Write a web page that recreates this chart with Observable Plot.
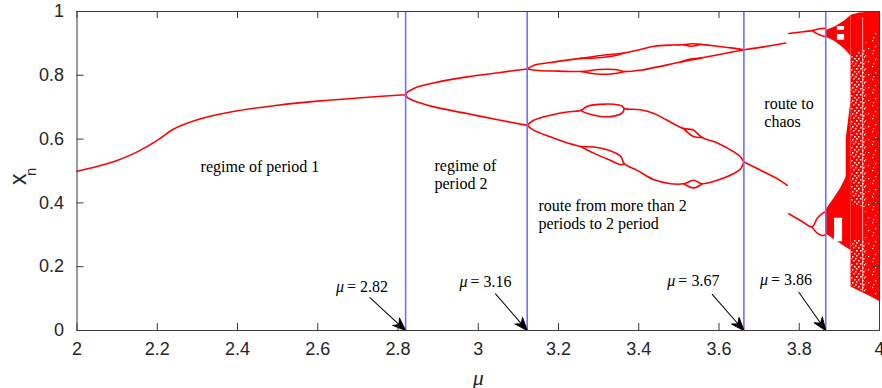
<!DOCTYPE html>
<html><head><meta charset="utf-8">
<script src="https://cdn.jsdelivr.net/npm/d3@7"></script>
<script src="https://cdn.jsdelivr.net/npm/@observablehq/plot@0.6"></script>
<style>body{margin:0;background:#fff;}</style>
</head><body><div id="chart"></div>
<script>
// ---------- axes ----------
const xTicks = [2, 2.2, 2.4, 2.6, 2.8, 3, 3.2, 3.4, 3.6, 3.8, 4];
const xTickLabels = ["2", "2.2", "2.4", "2.6", "2.8", "3", "3.2", "3.4", "3.6", "3.8", "4"];
const yTicks = [0, 0.2, 0.4, 0.6, 0.8, 1];
const yTickLabels = ["0", "0.2", "0.4", "0.6", "0.8", "1"];

// ---------- bifurcation branches [mu, x_n] ----------
const period1 = [[2.000,0.499],[2.050,0.514],[2.100,0.533],[2.150,0.560],[2.200,0.596],[2.240,0.631],[2.300,0.661],[2.400,0.689],[2.500,0.706],[2.600,0.719],[2.700,0.729],[2.819,0.739]];
const period2Up = [[2.819,0.739],[2.823,0.747],[2.831,0.753],[2.848,0.763],[2.889,0.776],[2.972,0.795],[3.055,0.809],[3.122,0.820]];
const period2Low = [[2.819,0.739],[2.823,0.731],[2.831,0.725],[2.848,0.716],[2.889,0.701],[2.972,0.680],[3.055,0.659],[3.122,0.643]];
const upperUpper = [[3.122,0.820],[3.138,0.831],[3.180,0.840],[3.255,0.853],[3.305,0.862],[3.364,0.870],[3.404,0.881],[3.438,0.891],[3.487,0.895],[3.512,0.896],[3.533,0.899],[3.554,0.897],[3.596,0.891],[3.630,0.886],[3.662,0.880]];
const upperUpperLoopA = [[3.255,0.853],[3.300,0.855],[3.340,0.861],[3.364,0.870]];
const upperUpperLoopB = [[3.512,0.896],[3.533,0.891],[3.554,0.897]];
const upperLower = [[3.122,0.820],[3.150,0.815],[3.200,0.813],[3.257,0.812],[3.300,0.818],[3.340,0.818],[3.366,0.812],[3.404,0.816],[3.438,0.824],[3.487,0.837],[3.521,0.846],[3.571,0.858],[3.620,0.870],[3.662,0.880]];
const upperLowerLoopA = [[3.257,0.812],[3.290,0.805],[3.330,0.804],[3.366,0.812]];
const upperLowerLoopB = [[3.505,0.842],[3.530,0.851],[3.555,0.853]];
const lowerUpper = [[3.122,0.643],[3.138,0.659],[3.180,0.675],[3.222,0.685],[3.255,0.690],[3.272,0.703],[3.305,0.709],[3.338,0.709],[3.359,0.703],[3.364,0.696],[3.404,0.692],[3.438,0.680],[3.471,0.659],[3.512,0.633],[3.535,0.629],[3.558,0.605],[3.596,0.588],[3.637,0.560],[3.654,0.544],[3.662,0.528]];
const lowerUpperLoopA = [[3.255,0.690],[3.272,0.680],[3.305,0.671],[3.338,0.672],[3.359,0.682],[3.364,0.696]];
const lowerUpperLoopB = [[3.512,0.633],[3.535,0.609],[3.558,0.605]];
const lowerLower = [[3.122,0.643],[3.138,0.628],[3.180,0.607],[3.222,0.588],[3.255,0.577],[3.288,0.575],[3.330,0.563],[3.355,0.546],[3.364,0.523],[3.396,0.502],[3.437,0.473],[3.479,0.460],[3.512,0.460],[3.537,0.471],[3.558,0.460],[3.596,0.471],[3.637,0.492],[3.654,0.507],[3.662,0.528]];
const lowerLowerLoopA = [[3.255,0.577],[3.288,0.556],[3.330,0.533],[3.355,0.520],[3.364,0.523]];
const lowerLowerLoopB = [[3.512,0.460],[3.537,0.447],[3.558,0.460]];
const mergedUp = [[3.662,0.880],[3.712,0.889],[3.766,0.901]];
const mergedLow = [[3.662,0.528],[3.685,0.514],[3.712,0.497],[3.745,0.476],[3.770,0.455]];
const preChaosUp = [[3.774,0.931],[3.800,0.935],[3.832,0.940],[3.850,0.946],[3.866,0.947]];
const preChaosUpLoop = [[3.832,0.940],[3.850,0.927],[3.866,0.921]];
const preChaosLow = [[3.774,0.366],[3.803,0.345],[3.832,0.325],[3.845,0.352],[3.858,0.367],[3.866,0.372]];
const preChaosLowLoop = [[3.832,0.325],[3.845,0.305],[3.858,0.298],[3.866,0.300]];

// ---------- chaotic bands ----------
const chaosUpperMu = [3.866, 3.878, 3.890, 3.903, 3.915, 3.929];
const chaosUpperLo = [0.920, 0.913, 0.905, 0.893, 0.880, 0.860];
const chaosUpperHi = [0.940, 0.946, 0.952, 0.962, 0.972, 0.988];
const chaosLowerMu = [3.866, 3.878, 3.890, 3.903, 3.915, 3.929];
const chaosLowerLo = [0.303, 0.293, 0.283, 0.272, 0.262, 0.251];
const chaosLowerHi = [0.377, 0.398, 0.420, 0.445, 0.475, 0.515];
const chaosBulgeMu = [3.917, 3.923, 3.929];
const chaosBulgeLo = [0.460, 0.430, 0.400];
const chaosBulgeHi = [0.600, 0.660, 0.720];
const chaosMainMu = [3.929, 3.950, 3.975, 4.000];
const chaosMainLo = [0.136, 0.123, 0.108, 0.091];
const chaosMainHi = [0.988, 0.995, 0.998, 1.000];
// sparser (speckled) parts of the chaotic region
const sparseUpperMu = [3.931, 3.948, 3.966];
const sparseUpperLo = [0.395, 0.390, 0.385];
const sparseUpperHi = [0.860, 0.870, 0.880];
const sparseLowerMu = [3.931, 3.948, 3.966];
const sparseLowerLo = [0.140, 0.130, 0.120];
const sparseLowerHi = [0.280, 0.282, 0.284];
const sparseRightMu = [3.966, 3.985, 3.998];
const sparseRightLo = [0.118, 0.110, 0.100];
const sparseRightHi = [0.900, 0.930, 0.950];
// periodic windows inside the bands [mu1, mu2, x1, x2]
const windows = [[3.895,3.913,0.941,0.953],[3.895,3.913,0.910,0.928],[3.888,3.908,0.278,0.352]];
const windowLineMu = [3.958];

// ---------- bifurcation markers ----------
const lineMu = [2.819, 3.122, 3.662, 3.866];
const bifLabels = ["= 2.82", "= 3.16", "= 3.67", "= 3.86"];
const bifLabelMu = [2.669, 2.977, 3.495, 3.726];
const bifLabelX = [0.138, 0.151, 0.157, 0.160];
const arrowTailMu = [2.730, 3.043, 3.583, 3.799];
const arrowTailX = [0.103, 0.115, 0.113, 0.120];

// ---------- region labels ----------
const regionLabels = ["regime of period 1", "regime of\nperiod 2", "route from more than 2\nperiods to 2 period", "route to\nchaos"];
const regionLabelMu = [2.308, 2.891, 3.150, 3.713];
const regionLabelX = [0.515, 0.490, 0.364, 0.684];

// ---------- build tables ----------
const branches = {period1, period2Up, period2Low, upperUpper, upperUpperLoopA, upperUpperLoopB,
  upperLower, upperLowerLoopA, upperLowerLoopB, lowerUpper, lowerUpperLoopA, lowerUpperLoopB,
  lowerLower, lowerLowerLoopA, lowerLowerLoopB, mergedUp, mergedLow, preChaosUp, preChaosUpLoop,
  preChaosLow, preChaosLowLoop};
const curves = Object.entries(branches).flatMap(([id, pts]) => pts.map(([mu, x]) => ({id, mu, x})));
const toBand = list => list.flatMap(([id, M, L, H]) => M.map((mu, i) => ({id, mu, lo: L[i], hi: H[i]})));
const bands = toBand([
  ["upper", chaosUpperMu, chaosUpperLo, chaosUpperHi],
  ["lower", chaosLowerMu, chaosLowerLo, chaosLowerHi],
  ["bulge", chaosBulgeMu, chaosBulgeLo, chaosBulgeHi],
  ["main", chaosMainMu, chaosMainLo, chaosMainHi]
]);
const heavySpeckle = toBand([
  ["su", sparseUpperMu, sparseUpperLo, sparseUpperHi],
  ["sl", sparseLowerMu, sparseLowerLo, sparseLowerHi]
]);
const lightSpeckle = toBand([["sr", sparseRightMu, sparseRightLo, sparseRightHi]]);
const winTable = windows.map(([a, b, c, d]) => ({a, b, c, d}));
const bifTable = lineMu.map((mu, i) => ({mu, label: bifLabels[i], lmu: bifLabelMu[i], lx: bifLabelX[i], tmu: arrowTailMu[i], tx: arrowTailX[i]}));
const regionTable = regionLabels.map((t, i) => ({t, mu: regionLabelMu[i], x: regionLabelX[i]}));

const W = 882, H = 388, ML = 76.5, MR = 3, MT = 11, MB = 58;
const innerW = W - ML - MR, innerH = H - MT - MB;
const layout = {width: W, height: H, marginLeft: ML, marginRight: MR, marginTop: MT, marginBottom: MB,
  x: {domain: [2, 4]}, y: {domain: [0, 1]}, style: {background: "white", overflow: "visible"}};

const probe = Plot.plot({...layout, marks: [Plot.frame()]});
const sx = probe.scale("x"), sy = probe.scale("y");
const fx = sx.apply ? sx.apply : d3.scaleLinear(sx.domain, sx.range);
const fy = sy.apply ? sy.apply : d3.scaleLinear(sy.domain, sy.range);

const arrowShape = {
  draw(context, l) {
    context.moveTo(0, 0);
    context.lineTo(0, -l + 8);
    context.moveTo(0, -l);
    context.lineTo(-5, -l + 13);
    context.lineTo(0, -l + 9);
    context.lineTo(5, -l + 13);
    context.closePath();
  }
};
const arrowMarks = bifTable.map(d => {
  const dx = fx(d.mu) - fx(d.tmu), dy = fy(0) - fy(d.tx);
  const len = Math.hypot(dx, dy);
  const ang = Math.atan2(dx, -dy) * 180 / Math.PI;
  return Plot.vector([d], {x: "mu", y: () => 0, length: len, rotate: ang, anchor: "end",
    shape: arrowShape, stroke: "black", fill: "black", strokeWidth: 1});
});

const SANS = "'Liberation Sans', Arial, Helvetica, sans-serif";
const SERIF = "'Liberation Serif', 'Times New Roman', Times, serif";
const axisColor = "#3a3a3a";
const RED = "#ff0000";

const chart = Plot.plot({
  ...layout,
  marks: [
    Plot.areaY(bands, {x: "mu", y1: "lo", y2: "hi", z: "id", fill: RED, curve: "linear"}),
    Plot.areaY(heavySpeckle, {x: "mu", y1: "lo", y2: "hi", z: "id", fill: "url(#speckHeavy)", curve: "linear"}),
    Plot.areaY(lightSpeckle, {x: "mu", y1: "lo", y2: "hi", z: "id", fill: "url(#speckLight)", curve: "linear"}),
    Plot.ruleX(windowLineMu, {x: d => d, y1: 0.12, y2: 0.98, stroke: "white", strokeWidth: 0.8, strokeOpacity: 0.8}),
    Plot.rect(winTable, {x1: "a", x2: "b", y1: "c", y2: "d", fill: "white"}),
    Plot.line(curves, {x: "mu", y: "x", z: "id", stroke: RED, strokeWidth: 1.6, curve: "catmull-rom"}),
    Plot.ruleX(lineMu, {x: d => d, y1: 0, y2: 1, stroke: "#7070ff", strokeWidth: 1.6}),
    ...arrowMarks,
    Plot.text(bifTable, {x: "lmu", y: "lx", text: () => "μ", textAnchor: "end", dx: -1.5, fontStyle: "italic", fontFamily: SERIF, fontSize: 16, fill: "black"}),
    Plot.text(bifTable, {x: "lmu", y: "lx", text: "label", textAnchor: "start", dx: 1.5, fontFamily: SERIF, fontSize: 16, fill: "black"}),
    Plot.text(regionTable, {x: "mu", y: "x", text: "t", textAnchor: "start", lineAnchor: "middle", lineHeight: 1.15, fontFamily: SERIF, fontSize: 16, fill: "black"}),
    Plot.frame({stroke: axisColor, strokeWidth: 1}),
    Plot.tickX(xTicks, {x: d => d, insetTop: innerH - 7, stroke: axisColor}),
    Plot.tickX(xTicks, {x: d => d, insetBottom: innerH - 7, stroke: axisColor}),
    Plot.tickY(yTicks, {y: d => d, insetRight: innerW - 7, stroke: axisColor}),
    Plot.tickY(yTicks, {y: d => d, insetLeft: innerW - 7, stroke: axisColor}),
    Plot.axisX(xTicks, {tickSize: 0, tickPadding: 12, tickFormat: d => xTickLabels[xTicks.indexOf(d)], fontSize: 18, fontFamily: SANS, fill: "#262626", label: null}),
    Plot.axisY(yTicks, {tickSize: 0, tickPadding: 13, tickFormat: d => yTickLabels[yTicks.indexOf(d)], fontSize: 18, fontFamily: SANS, fill: "#262626", label: null}),
    Plot.text(["x"], {frameAnchor: "left", dx: -58, dy: 14, rotate: -90, fontSize: 23, fontFamily: SANS, fill: "#262626"}),
    Plot.text(["n"], {frameAnchor: "left", dx: -46, dy: 5, rotate: -90, fontSize: 15, fontFamily: SANS, fill: "#262626"}),
    Plot.text(["μ"], {frameAnchor: "bottom", dy: 54, fontSize: 22, fontStyle: "italic", fontFamily: SERIF, fill: "#262626"})
  ]
});

// speckle textures (white specks over the red chaotic region)
const svg = d3.select(chart.tagName.toLowerCase() === "svg" ? chart : chart.querySelector("svg"));
const defs = svg.insert("defs", ":first-child");
const heavyDots = [[0,0],[4,1],[8,0],[11,3],[2,3],[6,4],[9,6],[0,6],[4,7],[7,9],[11,8],[2,10],[10,11],[5,11]];
const lightDots = [[1,1],[7,3],[4,7],[10,9],[2,11]];
[["speckHeavy", heavyDots, 1.5], ["speckLight", lightDots, 1.2]].forEach(([id, dots, s]) => {
  const p = defs.append("pattern").attr("id", id).attr("patternUnits", "userSpaceOnUse")
    .attr("width", 13).attr("height", 13);
  dots.forEach(([a, b]) => p.append("rect").attr("x", a).attr("y", b).attr("width", s).attr("height", s).attr("fill", "white"));
});
document.getElementById("chart").appendChild(chart);
</script>
</body></html>
